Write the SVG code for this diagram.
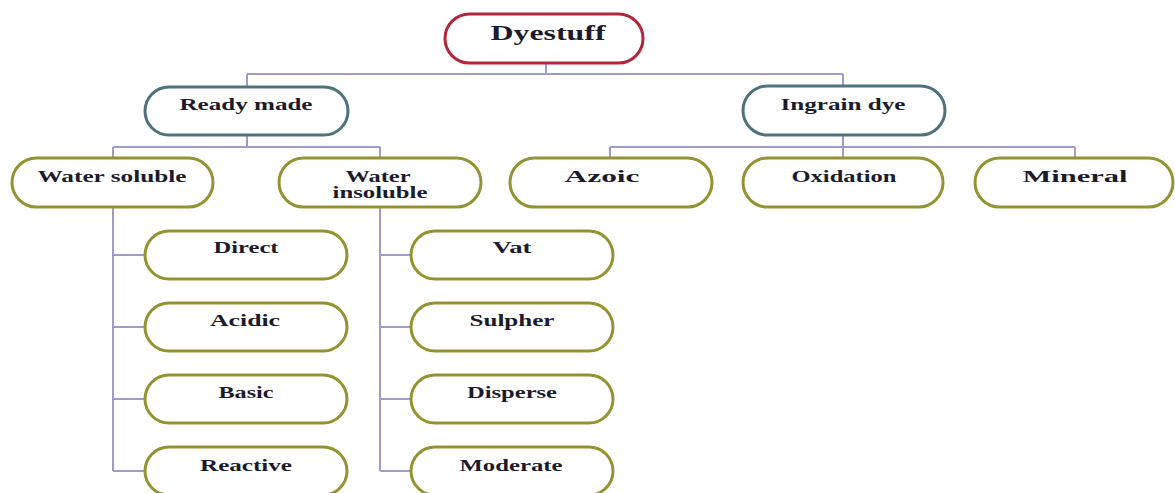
<svg xmlns="http://www.w3.org/2000/svg" width="1175" height="493" viewBox="0 0 1175 493">
<style>
.bg{fill:#ffffff}
.conn{stroke:#9d9cc8;stroke-width:2;fill:none}
.n{fill:#ffffff;stroke-width:3}
.root{stroke:#b1263b}
.mid{stroke:#50717f}
.leaf{stroke:#939331}
text{font-family:"Liberation Serif","Times New Roman",serif;font-weight:bold;fill:#1b1b2e;text-anchor:middle;font-size:16px}
.t20{font-size:20px}
.t17{font-size:17px}
</style>
<rect class="bg" x="0" y="0" width="1175" height="493"/>
<g id="connectors">
<path class="conn" d="M546 63V74M247 74H843M247 74V87M843 74V86"/>
<path class="conn" d="M247 135V147M113 147H380M113 147V471M380 147V471"/>
<path class="conn" d="M113 255H145M113 327H145M113 399H145M113 471H145"/>
<path class="conn" d="M380 255H411M380 327H411M380 399H411M380 471H411"/>
<path class="conn" d="M843 135V147M610 147H1075M610 147V158M843 147V158M1075 147V158"/>
</g>
<g id="dyestuff"><rect class="n root" x="445" y="14" width="198" height="49" rx="24.5"/><text class="t20" x="548" y="40" textLength="115" lengthAdjust="spacingAndGlyphs">Dyestuff</text></g>
<g id="ready-made"><rect class="n mid" x="145" y="87" width="203" height="48" rx="24"/><text class="t17" x="246" y="110" textLength="133" lengthAdjust="spacingAndGlyphs">Ready made</text></g>
<g id="ingrain-dye"><rect class="n mid" x="743" y="86" width="202" height="49" rx="24.5"/><text class="t17" x="843" y="110" textLength="125" lengthAdjust="spacingAndGlyphs">Ingrain dye</text></g>
<g id="water-soluble"><rect class="n leaf" x="12" y="158" width="201" height="49" rx="24.5"/><text x="112" y="182" textLength="149" lengthAdjust="spacingAndGlyphs">Water soluble</text></g>
<g id="water-insoluble"><rect class="n leaf" x="279" y="158" width="202" height="49" rx="24.5"/><text x="378" y="182" textLength="65" lengthAdjust="spacingAndGlyphs">Water</text><text x="380" y="198" textLength="95" lengthAdjust="spacingAndGlyphs">insoluble</text></g>
<g id="azoic"><rect class="n leaf" x="510" y="158" width="202" height="49" rx="24.5"/><text x="602" y="182" textLength="75" lengthAdjust="spacingAndGlyphs">Azoic</text></g>
<g id="oxidation"><rect class="n leaf" x="743" y="158" width="200" height="49" rx="24.5"/><text x="844" y="182" textLength="105" lengthAdjust="spacingAndGlyphs">Oxidation</text></g>
<g id="mineral"><rect class="n leaf" x="975" y="158" width="198" height="49" rx="24.5"/><text x="1075" y="182" textLength="105" lengthAdjust="spacingAndGlyphs">Mineral</text></g>
<g id="direct"><rect class="n leaf" x="145" y="231" width="202" height="48" rx="24"/><text x="246" y="253" textLength="65" lengthAdjust="spacingAndGlyphs">Direct</text></g>
<g id="acidic"><rect class="n leaf" x="145" y="303" width="202" height="48" rx="24"/><text x="245" y="326" textLength="70" lengthAdjust="spacingAndGlyphs">Acidic</text></g>
<g id="basic"><rect class="n leaf" x="145" y="375" width="202" height="48" rx="24"/><text x="246" y="398" textLength="55" lengthAdjust="spacingAndGlyphs">Basic</text></g>
<g id="reactive"><rect class="n leaf" x="145" y="447" width="202" height="48" rx="24"/><text x="246" y="471" textLength="92" lengthAdjust="spacingAndGlyphs">Reactive</text></g>
<g id="vat"><rect class="n leaf" x="411" y="231" width="202" height="48" rx="24"/><text x="512" y="253" textLength="39" lengthAdjust="spacingAndGlyphs">Vat</text></g>
<g id="sulpher"><rect class="n leaf" x="411" y="303" width="202" height="48" rx="24"/><text x="512" y="326" textLength="85" lengthAdjust="spacingAndGlyphs">Sulpher</text></g>
<g id="disperse"><rect class="n leaf" x="411" y="375" width="202" height="48" rx="24"/><text x="512" y="398" textLength="90" lengthAdjust="spacingAndGlyphs">Disperse</text></g>
<g id="moderate"><rect class="n leaf" x="411" y="447" width="202" height="48" rx="24"/><text x="511" y="471" textLength="103" lengthAdjust="spacingAndGlyphs">Moderate</text></g>
</svg>
